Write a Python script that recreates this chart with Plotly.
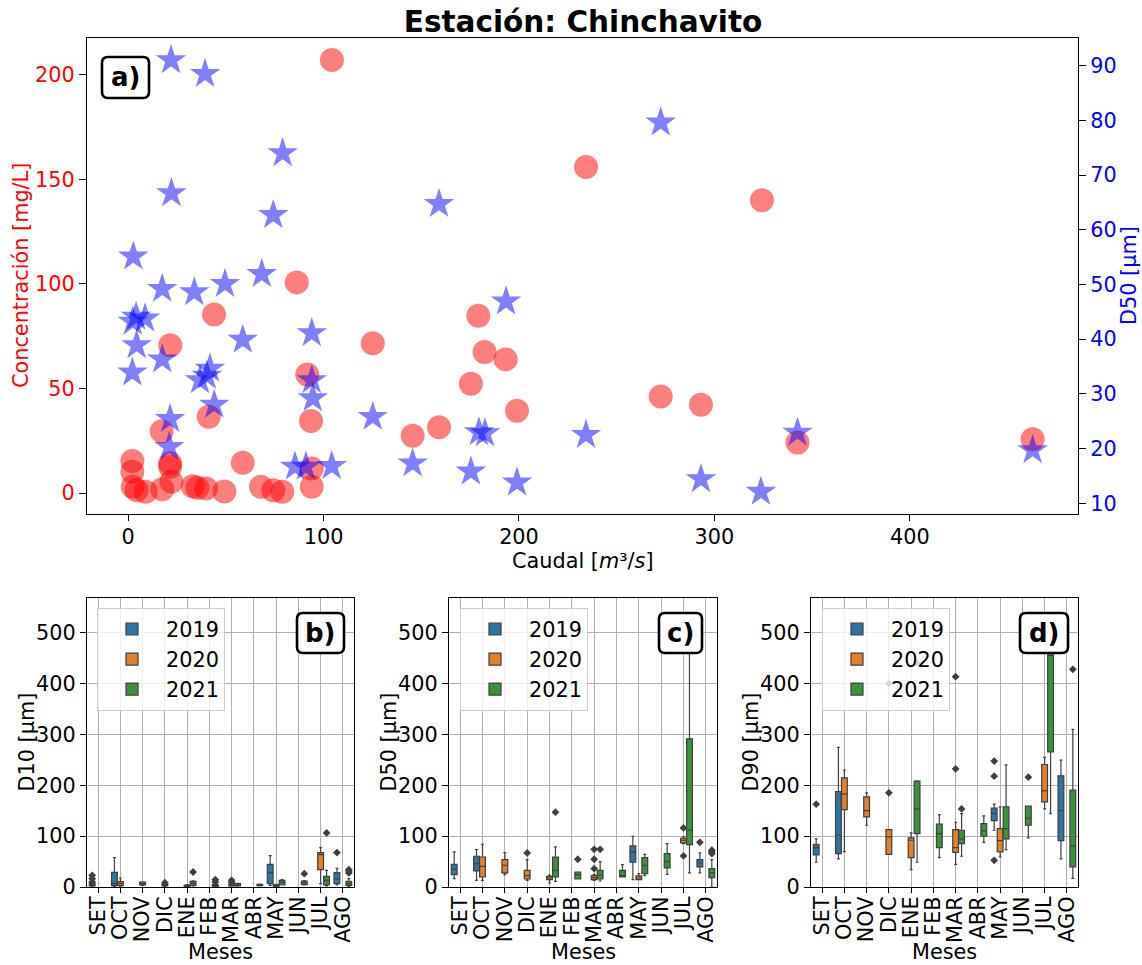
import plotly.graph_objects as go

# ---------------- data ----------------
MONTHS = ["SET", "OCT", "NOV", "DIC", "ENE", "FEB", "MAR", "ABR", "MAY", "JUN", "JUL", "AGO"]
YEARS = [2019, 2020, 2021]

# panel a) concentration vs discharge
caudal_conc = [104.3, 234.3, 324.3, 86.3, 44.0, 21.6, 125.2, 179.2, 182.4, 193.2, 175.4, 199.0,
               145.6, 159.1, 272.5, 293.1, 342.5, 462.8, 91.7, 93.6, 41.3, 17.2, 21.5, 21.5,
               58.7, 2.2, 2.2, 2.4, 4.4, 9.0, 17.5, 22.2, 33.1, 35.5, 39.9, 49.3, 68.0, 74.3,
               78.9, 94.0, 94.0]
conc = [207.0, 155.8, 140.0, 100.7, 85.4, 70.7, 71.6, 84.8, 67.4, 63.9, 52.3, 39.3,
        27.4, 31.5, 46.2, 42.2, 24.2, 25.7, 56.7, 34.4, 36.5, 29.5, 14.2, 12.6,
        14.5, 15.3, 10.2, 3.0, 1.4, 0.6, 1.8, 5.4, 3.3, 2.5, 2.2, 0.8, 3.0, 1.4,
        0.6, 3.0, 11.8]

# panel a) D50 vs discharge
caudal_d50 = [22.0, 39.4, 79.1, 22.2, 74.3, 2.7, 159.1, 272.5, 68.4, 17.5, 33.9, 49.6,
              4.1, 8.7, 2.4, 4.4, 58.7, 94.0, 2.2, 17.5, 36.8, 41.9, 40.3, 44.1,
              94.0, 94.5, 125.2, 21.5, 21.1, 85.4, 91.0, 104.2, 193.4, 179.5, 182.6, 234.3,
              145.6, 175.4, 199.0, 293.1, 323.8, 342.5, 462.8]
d50_scatter = [91.0, 88.5, 74.0, 66.7, 62.7, 55.1, 64.7, 79.6, 51.9, 49.2, 48.6, 50.1,
               44.1, 43.8, 43.2, 38.9, 39.9, 41.1, 33.9, 36.3, 32.5, 34.6, 33.3, 28.0,
               32.5, 29.2, 25.8, 25.4, 20.3, 16.7, 16.7, 16.8, 46.9, 23.0, 22.8, 22.5,
               17.3, 15.8, 13.8, 14.4, 12.1, 22.9, 19.7]

# panel b) D10 boxes
d10_month = ["SET", "OCT", "OCT", "NOV", "DIC", "ENE", "ENE", "FEB", "MAR", "MAR", "ABR",
             "MAY", "MAY", "MAY", "JUN", "JUL", "JUL", "AGO", "AGO"]
d10_year = [2019, 2019, 2020, 2020, 2020, 2020, 2021, 2021, 2020, 2021, 2021,
            2019, 2020, 2021, 2021, 2020, 2021, 2019, 2021]
d10_lo = [0.5, 1.3, 1.5, 3.0, 1.0, 0.8, 2.0, 1.0, 1.5, 1.5, 2.0, 3.3, 1.0, 3.9, 4.0, 6.6, 2.0, 3.9, 1.3]
d10_q1 = [2.0, 2.6, 2.6, 3.9, 2.0, 1.3, 3.3, 1.3, 2.0, 2.0, 2.6, 6.6, 1.3, 3.9, 4.6, 34.1, 3.9, 6.6, 3.3]
d10_med = [3.9, 6.6, 6.6, 6.6, 3.3, 2.6, 7.2, 2.6, 3.3, 3.9, 3.9, 27.6, 2.6, 9.2, 8.5, 63.6, 13.1, 15.7, 6.6]
d10_q3 = [6.6, 28.9, 10.5, 9.8, 5.2, 3.9, 11.2, 4.6, 5.2, 6.6, 5.2, 44.6, 4.6, 13.1, 11.8, 67.6, 21.0, 28.2, 11.2]
d10_hi = [8.0, 57.7, 17.7, 10.0, 6.0, 4.5, 12.0, 6.0, 7.0, 7.0, 5.5, 61.7, 5.0, 14.4, 12.5, 77.4, 32.8, 36.7, 16.4]
d10_out_month = ["SET", "SET", "SET", "DIC", "ENE", "FEB", "FEB", "MAR", "MAR", "JUN", "JUL", "AGO", "AGO", "AGO", "AGO"]
d10_out_year = [2019, 2019, 2019, 2020, 2021, 2021, 2021, 2020, 2020, 2021, 2021, 2019, 2021, 2021, 2021]
d10_out_val = [10.0, 16.4, 23.0, 8.5, 29.5, 9.8, 14.4, 9.2, 13.1, 26.2, 106.3, 67.6, 27.6, 31.5, 34.1]

# panel c) D50 boxes
d50_month = ["SET", "OCT", "OCT", "NOV", "DIC", "ENE", "ENE", "FEB", "MAR", "MAR", "ABR",
             "MAY", "MAY", "MAY", "JUN", "JUL", "JUL", "AGO", "AGO"]
d50_year = [2019, 2019, 2020, 2020, 2020, 2020, 2021, 2021, 2020, 2021, 2021,
            2019, 2020, 2021, 2021, 2020, 2021, 2019, 2021]
d50_lo = [16.4, 13.1, 13.1, 24.3, 13.1, 7.9, 11.2, 15.7, 13.1, 11.8, 19.7, 14.4, 14.4, 22.3, 24.9, 85.3, 27.6, 27.6, 0.0]
d50_q1 = [24.3, 31.5, 19.7, 27.6, 15.7, 14.4, 19.7, 15.7, 14.4, 15.7, 19.7, 48.6, 14.4, 26.2, 37.4, 86.6, 83.3, 39.4, 18.4]
d50_med = [34.8, 45.9, 40.7, 42.7, 22.3, 17.7, 32.8, 24.3, 18.4, 23.6, 22.3, 69.6, 17.7, 42.7, 49.9, 91.9, 111.5, 47.2, 27.6]
d50_q3 = [44.6, 60.4, 59.0, 53.8, 32.8, 21.0, 59.0, 29.5, 22.3, 32.8, 32.8, 80.7, 21.7, 57.7, 65.6, 95.8, 291.3, 53.8, 36.1]
d50_hi = [68.9, 73.5, 84.0, 67.6, 53.8, 23.6, 78.7, 29.5, 24.9, 49.9, 44.0, 99.7, 26.2, 64.3, 85.3, 98.4, 465.0, 66.9, 53.8]
d50_out_month = ["DIC", "ENE", "FEB", "MAR", "MAR", "MAR", "MAR", "JUL", "JUL", "AGO", "AGO", "AGO", "AGO"]
d50_out_year = [2020, 2021, 2021, 2020, 2020, 2020, 2021, 2020, 2020, 2019, 2021, 2021, 2021]
d50_out_val = [66.9, 147.0, 54.5, 36.1, 54.5, 74.1, 74.1, 61.0, 116.1, 87.9, 65.6, 68.9, 72.2]

# panel d) D90 boxes
d90_month = ["SET", "OCT", "OCT", "NOV", "DIC", "ENE", "ENE", "FEB", "MAR", "MAR", "ABR",
             "MAY", "MAY", "MAY", "JUN", "JUL", "JUL", "AGO", "AGO"]
d90_year = [2019, 2019, 2020, 2020, 2020, 2020, 2021, 2021, 2020, 2021, 2021,
            2019, 2020, 2021, 2021, 2020, 2021, 2019, 2021]
d90_lo = [48.6, 55.1, 69.6, 121.4, 64.3, 34.1, 48.6, 57.7, 44.6, 60.4, 87.9, 111.5, 59.0, 73.5, 96.5, 153.5, 144.4, 55.1, 17.0]
d90_q1 = [63.0, 65.6, 152.2, 137.8, 64.3, 57.7, 105.0, 77.4, 68.2, 85.3, 99.7, 130.6, 68.9, 94.5, 121.4, 167.3, 265.7, 91.2, 39.4]
d90_med = [77.4, 101.7, 182.4, 150.0, 98.4, 91.9, 153.5, 105.0, 77.4, 94.5, 110.9, 144.4, 91.2, 114.8, 135.2, 189.0, 455.0, 150.3, 80.7]
d90_q3 = [84.0, 187.7, 214.6, 177.2, 112.9, 96.5, 208.0, 123.4, 112.9, 111.5, 124.7, 154.9, 114.8, 157.5, 158.8, 240.8, 462.6, 218.5, 190.3]
d90_hi = [94.5, 274.3, 229.7, 185.0, 112.9, 106.3, 208.7, 142.4, 127.3, 144.4, 139.8, 162.7, 157.5, 240.2, 158.8, 254.6, 469.0, 249.3, 309.7]
d90_out_month = ["SET", "DIC", "DIC", "ENE", "MAR", "MAR", "MAR", "MAY", "MAY", "MAY", "JUN", "JUL", "AGO"]
d90_out_year = [2019, 2020, 2020, 2021, 2020, 2020, 2021, 2019, 2019, 2019, 2021, 2020, 2021]
d90_out_val = [162.7, 185.0, 400.0, 440.0, 232.3, 413.4, 153.5, 52.5, 217.8, 247.4, 215.9, 467.0, 427.8]

# ---------------- style ----------------
W, H = 1142, 965
FONT = "DejaVu Sans"
FS = 20.8
YEAR_COLORS = {2019: "#3274a1", 2020: "#e1812c", 2021: "#3a923a"}
YEAR_OFFSET = {2019: -0.267, 2020: 0.0, 2021: 0.267}
EDGE = "#3f3f3f"


def px(x):
    return x / W


def py(y):
    return 1 - y / H


def rounded_box(x0, y0, x1, y1, r=6):
    """Rounded rectangle path in paper coordinates from pixel corners."""
    pts = [
        f"M {px(x0 + r)} {py(y0)}",
        f"L {px(x1 - r)} {py(y0)}",
        f"Q {px(x1)} {py(y0)} {px(x1)} {py(y0 + r)}",
        f"L {px(x1)} {py(y1 - r)}",
        f"Q {px(x1)} {py(y1)} {px(x1 - r)} {py(y1)}",
        f"L {px(x0 + r)} {py(y1)}",
        f"Q {px(x0)} {py(y1)} {px(x0)} {py(y1 - r)}",
        f"L {px(x0)} {py(y0 + r)}",
        f"Q {px(x0)} {py(y0)} {px(x0 + r)} {py(y0)}",
        "Z",
    ]
    return " ".join(pts)


fig = go.Figure()

# ---- panel a ----
fig.add_trace(go.Scatter(
    x=caudal_conc, y=conc, mode="markers", xaxis="x", yaxis="y",
    marker=dict(symbol="circle", size=24, color="rgba(255,0,0,0.5)", line=dict(width=0)),
    showlegend=False, name="Concentración"))
fig.add_trace(go.Scatter(
    x=caudal_d50, y=d50_scatter, mode="markers", xaxis="x", yaxis="y2",
    marker=dict(symbol="star", size=23, color="rgba(0,0,255,0.5)", line=dict(width=0)),
    showlegend=False, name="D50"))

# ---- panels b, c, d ----
panels = [
    ("x3", "y3", "legend", d10_month, d10_year, d10_lo, d10_q1, d10_med, d10_q3, d10_hi,
     d10_out_month, d10_out_year, d10_out_val),
    ("x4", "y4", "legend2", d50_month, d50_year, d50_lo, d50_q1, d50_med, d50_q3, d50_hi,
     d50_out_month, d50_out_year, d50_out_val),
    ("x5", "y5", "legend3", d90_month, d90_year, d90_lo, d90_q1, d90_med, d90_q3, d90_hi,
     d90_out_month, d90_out_year, d90_out_val),
]

for (xa, ya, leg, mon, yr, lo, q1, med, q3, hi, omon, oyr, oval) in panels:
    for year in YEARS:
        idx = [i for i, y in enumerate(yr) if y == year]
        fig.add_trace(go.Box(
            x=[MONTHS.index(mon[i]) + YEAR_OFFSET[year] for i in idx],
            q1=[q1[i] for i in idx], median=[med[i] for i in idx], q3=[q3[i] for i in idx],
            lowerfence=[lo[i] for i in idx], upperfence=[hi[i] for i in idx],
            width=0.26, whiskerwidth=0.5, boxpoints=False,
            fillcolor=YEAR_COLORS[year], line=dict(color=EDGE, width=1.2),
            name=str(year), legend=leg, xaxis=xa, yaxis=ya, showlegend=True))
    fig.add_trace(go.Scatter(
        x=[MONTHS.index(omon[i]) + YEAR_OFFSET[oyr[i]] for i in range(len(oval))],
        y=oval, mode="markers", xaxis=xa, yaxis=ya, showlegend=False,
        marker=dict(symbol="diamond", size=6, color=EDGE)))

axis_common = dict(showline=True, linecolor="black", linewidth=1.2, mirror=True,
                   ticks="outside", tickwidth=1.2, tickcolor="black",
                   zeroline=False, automargin=False)

layout = dict(
    width=W, height=H, margin=dict(l=0, r=0, t=0, b=0, autoexpand=False),
    paper_bgcolor="white", plot_bgcolor="white",
    font=dict(family=FONT, size=FS, color="black"),
    boxmode="overlay",
    title=dict(text="<b>Estación: Chinchavito</b>", x=px(583), y=py(22),
               xanchor="center", yanchor="middle", font=dict(size=29.5, family=FONT)),
    xaxis=dict(domain=[px(87), px(1078)], range=[-21, 486], anchor="y", ticklen=6,
               ticklabelstandoff=-2,
               tickvals=[0, 100, 200, 300, 400], showgrid=False,
               tickfont=dict(size=FS), **axis_common),
    yaxis=dict(domain=[py(514), py(38)], range=[-10, 217.5], anchor="x", ticklen=7,
               tickvals=[0, 50, 100, 150, 200], showgrid=False,
               tickfont=dict(size=FS, color="red"), **axis_common),
    yaxis2=dict(overlaying="y", side="right", anchor="x", range=[8.04, 95.06],
                tickvals=[10, 20, 30, 40, 50, 60, 70, 80, 90], showgrid=False,
                tickfont=dict(size=FS, color="blue"),
                showline=True, linecolor="black", linewidth=1.2, automargin=False,
                ticks="outside", ticklen=7, tickwidth=1.2, tickcolor="black", zeroline=False),
)

# axis titles, placed as annotations at the reference positions (pixels)
axis_titles = [
    ("Caudal [<i>m</i>³/<i>s</i>]", 582.5, 561, 0, "black"),
    ("Concentración [mg/L]", 21, 276, -90, "red"),
    ("D50 [µm]", 1129, 276, -90, "blue"),
]

bottom_domains = [(87, 354), (449, 717), (811, 1078)]
ylabels = ["D10 [µm]", "D50 [µm]", "D90 [µm]"]
for k, ((x0, x1), ylab) in enumerate(zip(bottom_domains, ylabels)):
    n = k + 3
    layout[f"xaxis{n}"] = dict(
        domain=[px(x0), px(x1)], anchor=f"y{n}", range=[-0.5, 11.5], ticklen=5,
        ticklabelstandoff=-5,
        tickvals=list(range(len(MONTHS))), ticktext=MONTHS, tickangle=-90,
        showgrid=True, gridcolor="#b0b0b0", gridwidth=1,
        tickfont=dict(size=FS), **axis_common)
    layout[f"yaxis{n}"] = dict(
        domain=[py(887), py(598)], anchor=f"x{n}", range=[0, 568], ticklen=6,
        tickvals=[0, 100, 200, 300, 400, 500],
        showgrid=True, gridcolor="#b0b0b0", gridwidth=1,
        tickfont=dict(size=FS), **axis_common)
    axis_titles.append(("Meses", (x0 + x1) / 2, 952, 0, "black"))
    axis_titles.append((ylab, x0 - 61, 742.5, -90, "black"))

legend_common = dict(xref="paper", yref="paper", xanchor="left", yanchor="top",
                     bgcolor="rgba(255,255,255,0.8)", bordercolor="#cccccc", borderwidth=1,
                     font=dict(size=FS, family=FONT), itemwidth=58, traceorder="normal")
layout["legend"] = dict(x=px(97), y=py(608), **legend_common)
layout["legend2"] = dict(x=px(460), y=py(608), **legend_common)
layout["legend3"] = dict(x=px(822), y=py(608), **legend_common)

labels = [("a)", 102, 57, 149, 98), ("b)", 297, 613, 344, 653),
          ("c)", 659, 613, 702, 653), ("d)", 1020, 613, 1068, 653)]
layout["shapes"] = [
    dict(type="path", path=rounded_box(x0, y0, x1, y1), xref="paper", yref="paper",
         line=dict(color="black", width=2.6), fillcolor="white", layer="above")
    for (_, x0, y0, x1, y1) in labels
]
annotations = [
    dict(text=f"<b>{t}</b>", x=px((x0 + x1) / 2), y=py((y0 + y1) / 2), xref="paper", yref="paper",
         xanchor="center", yanchor="middle", showarrow=False,
         font=dict(size=26, family=FONT, color="black"))
    for (t, x0, y0, x1, y1) in labels
]
annotations += [
    dict(text=t, x=px(cx), y=py(cy), xref="paper", yref="paper", textangle=ang,
         xanchor="center", yanchor="middle", showarrow=False,
         font=dict(size=FS, family=FONT, color=col))
    for (t, cx, cy, ang, col) in axis_titles
]
layout["annotations"] = annotations

fig.update_layout(**layout)

fig.write_html("out.html", config={"displayModeBar": False},
               post_script="document.body.style.margin='0';")
